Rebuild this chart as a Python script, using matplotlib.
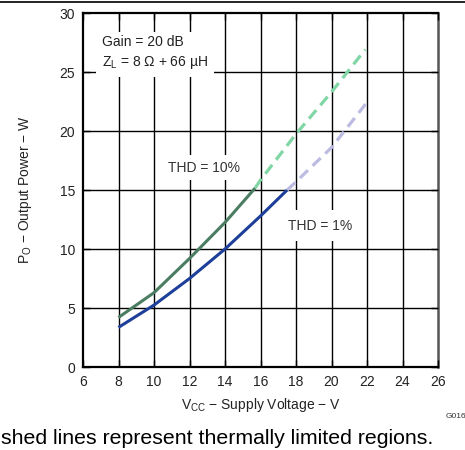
import matplotlib
matplotlib.use("Agg")
import matplotlib.pyplot as plt
from matplotlib.lines import Line2D

plt.rcParams['font.family'] = ['Liberation Sans', 'DejaVu Sans']
plt.rcParams['mathtext.fontset'] = 'custom'
plt.rcParams['mathtext.rm'] = 'Liberation Sans'
plt.rcParams['mathtext.it'] = 'Liberation Sans'

# THD = 10 %, solid part then thermally limited (dashed) part
vcc_10 = [8, 10, 12, 14, 15.7]
po_10 = [4.2, 6.3, 9.2, 12.25, 15.17]
vcc_10_th = [15.7, 16, 18, 20, 21.9]
po_10_th = [15.17, 15.85, 19.75, 23.3, 26.9]

# THD = 1 %
vcc_1 = [8, 10, 12, 14, 16, 17.5]
po_1 = [3.36, 5.25, 7.5, 10.0, 12.8, 15.0]
vcc_1_th = [17.5, 18, 20, 21.95]
po_1_th = [15.0, 15.7, 18.6, 22.34]

xticks = list(range(6, 27, 2))
yticks = list(range(0, 31, 5))

fig = plt.figure(figsize=(4.65, 4.5), dpi=100)
ax = fig.add_axes([0.1785, 0.1844, 0.7635, 0.7867])

# grid drawn by hand so the label boxes can hide it but not the ticks
for v in xticks[1:-1]:
    ax.axvline(v, color='black', lw=1.0, zorder=0.5)
for v in yticks[1:-1]:
    ax.axhline(v, color='black', lw=1.0, zorder=0.5)

ax.plot(vcc_10, po_10, color='#4b7d62', lw=2.2, zorder=3, solid_capstyle='butt')
ax.plot(vcc_10_th, po_10_th, color='#80d6a4', lw=2.3, dashes=(3.5, 2), zorder=3)
ax.plot(vcc_1, po_1, color='#1d3f9a', lw=2.2, zorder=3, solid_capstyle='butt')
ax.plot(vcc_1_th, po_1_th, color='#bcbce3', lw=2.3, dashes=(3.5, 2), zorder=3)

box = dict(facecolor='white', edgecolor='none', pad=4)
ax.text(7.06, 28.1, "Gain = 20 dB\nZ$_\\mathrm{L}$ = 8 Ω + 66 µH", fontsize=10,
        ha='left', va='top', linespacing=1.4, color='#222222', bbox=box, zorder=1)
ax.text(12.79, 16.9, "THD = 10%", fontsize=10, ha='center', va='center',
        color='#333333', bbox=box, zorder=1)
ax.text(19.34, 11.98, "THD = 1%", fontsize=10, ha='center', va='center',
        color='#333333', bbox=dict(facecolor='white', edgecolor='none', pad=6), zorder=1)

ax.set_xlim(6, 26)
ax.set_ylim(0, 30)
ax.set_xticks(xticks)
ax.set_yticks(yticks)
ax.set_axisbelow(False)
ax.tick_params(direction='in', length=5, width=1, top=True, right=True,
               labelsize=10, colors='black', labelcolor='#222222')
ax.tick_params(axis='y', pad=5.8)
ax.tick_params(axis='x', pad=5.5)
for side in ['left', 'bottom', 'top']:
    ax.spines[side].set_linewidth(1.6)
    ax.spines[side].set_color('black')
ax.spines['right'].set_linewidth(1.8)
ax.spines['right'].set_color('#555555')

ax.set_xlabel("V$_\\mathrm{CC}$ − Supply Voltage − V", fontsize=10, color='#222222', labelpad=5)
ax.set_ylabel("P$_\\mathrm{O}$ − Output Power − W", fontsize=10, color='#222222', labelpad=18)

fig.add_artist(Line2D([0, 1], [1 - 1.5 / 450, 1 - 1.5 / 450], color='black', lw=1.2,
                      transform=fig.transFigure))
# figure id sits at the right edge, cut off as in the source page
fig.text(446 / 465, 1 - 416 / 450, "G016", fontsize=6, ha='left', va='center', color='#333333')
fig.text(433 / 465, 1 - 438 / 450, "shed lines represent thermally limited regions.",
         fontsize=15.3, ha='right', va='center', color='black')

fig.savefig("out.png", dpi=100)
